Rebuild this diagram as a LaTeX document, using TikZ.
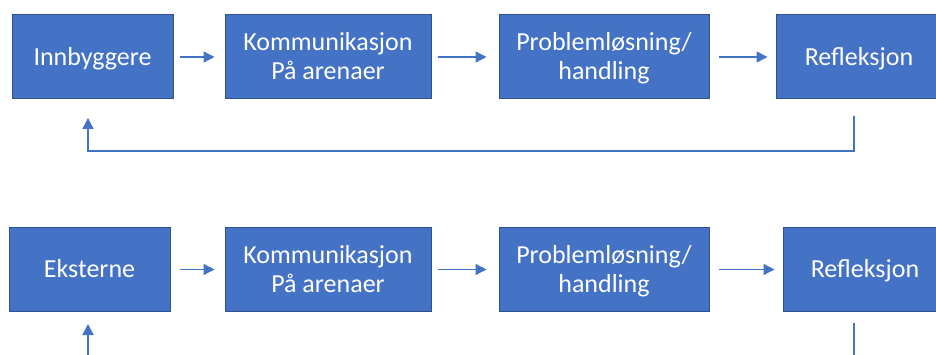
\documentclass[tikz,border=0pt]{standalone}
\usepackage{fontspec}
\setmainfont{Carlito}
\usetikzlibrary{arrows.meta}
\definecolor{boxfill}{HTML}{4472C4}
\definecolor{boxline}{HTML}{2F528F}
\definecolor{arrcol}{HTML}{4472C4}
\begin{document}
\begin{tikzpicture}[x=1pt,y=-1pt,
  box/.style={draw=boxline, line width=1pt, fill=boxfill, text=white, align=center,
    inner sep=0pt, minimum height=84pt, text height=23pt, text depth=6.5pt,
    font=\fontsize{26}{29}\selectfont},
  twoline/.style={text height=52pt},
  arr/.style={draw=arrcol, line width=1.4pt, -{Triangle[length=11pt,width=11pt]}},
  ln/.style={draw=arrcol, line width=1.4pt}]
\clip (0,0) rectangle (936,355);
\fill[white] (0,0) rectangle (936,355);
% Row 1
\node[box, minimum width=161pt] (a1) at (92.5,57) {Innbyggere};
\node[box, twoline, minimum width=206pt] (a2) at (328,57) {Kommunikasjon\\På arenaer};
\node[box, twoline, minimum width=210pt] (a3) at (604,57) {Problemløsning/\\handling};
\node[box, minimum width=166pt] (a4) at (859,57) {Refleksjon};
\draw[arr, shorten <=6pt, shorten >=10pt] (a1) -- (a2);
\draw[arr, shorten <=6pt, shorten >=12pt] (a2) -- (a3);
\draw[arr, shorten <=9pt, shorten >=8pt] (a3) -- (a4);
\coordinate (f1) at (854,116);
\coordinate (f2) at (88,118);
\draw[arr] (f1) -- ++(0,35) -| (f2);
% Row 2
\node[box, minimum width=161pt, minimum height=83pt] (b1) at (89.5,269.5) {Eksterne};
\node[box, twoline, minimum width=206pt, minimum height=83pt] (b2) at (328,269.5) {Kommunikasjon\\På arenaer};
\node[box, twoline, minimum width=210pt, minimum height=83pt] (b3) at (604,269.5) {Problemløsning/\\handling};
\node[box, minimum width=164pt, minimum height=83pt] (b4) at (865,269.5) {Refleksjon};
\draw[arr, shorten <=9pt, shorten >=10pt] (b1) -- (b2);
\draw[arr, shorten <=6pt, shorten >=12pt] (b2) -- (b3);
\draw[arr, shorten <=9pt, shorten >=8pt] (b3) -- (b4);
\coordinate (g1) at (854,323);
\coordinate (g1e) at (854,362);
\draw[ln] (g1) -- (g1e);
\coordinate (g2) at (88,324);
\coordinate (g2e) at (88,362);
\draw[arr] (g2e) -- (g2);
\end{tikzpicture}
\end{document}
